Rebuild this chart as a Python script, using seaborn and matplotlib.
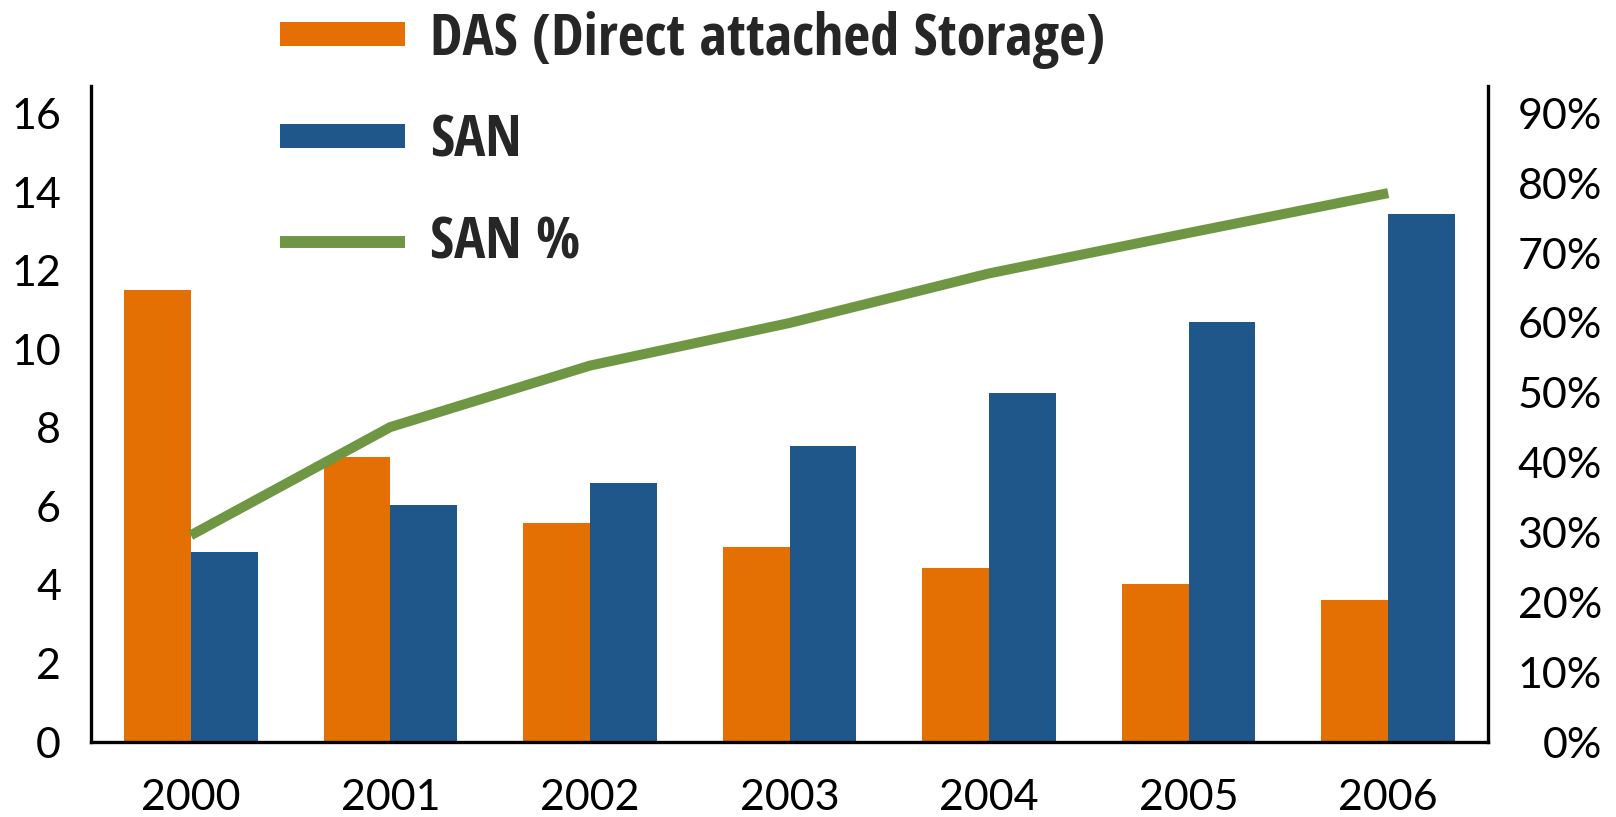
import numpy as np
import pandas as pd
import matplotlib
matplotlib.use("Agg")
import matplotlib.pyplot as plt
from matplotlib import font_manager as fm
from matplotlib.patches import Patch
from matplotlib.lines import Line2D
import seaborn as sns

# ---------------- data ----------------
years = ["2000", "2001", "2002", "2003", "2004", "2005", "2006"]
das_values = [11.5, 7.25, 5.57, 4.96, 4.43, 4.02, 3.61]
san_values = [4.83, 6.03, 6.59, 7.53, 8.88, 10.69, 13.43]
san_pct = [29.6, 45.1, 53.9, 60.0, 67.1, 72.9, 78.6]
series_labels = ["DAS (Direct attached Storage)", "SAN", "SAN %"]
left_ticks = [0, 2, 4, 6, 8, 10, 12, 14, 16]
right_ticks = [0, 10, 20, 30, 40, 50, 60, 70, 80, 90]

ORANGE = "#E47003"
BLUE = "#1F578B"
GREEN = "#6F9743"

sns.set_theme(style="white")
plt.rcParams["font.family"] = ["Lato", "DejaVu Sans"]

# choose a bold condensed family for the legend if available
def pick_condensed():
    entries = fm.fontManager.ttflist
    names = {e.name for e in entries}
    for name in ["Liberation Sans Narrow", "Open Sans Condensed", "Roboto Condensed",
                 "DejaVu Sans Condensed"]:
        if name in names:
            return name, "normal"
    for e in entries:
        if e.stretch in ("condensed", "semi-condensed", "extra-condensed") and e.name in (
                "DejaVu Sans", "Open Sans", "Noto Sans", "Roboto", "Liberation Sans"):
            return e.name, e.stretch
    return "Liberation Sans", "normal"

leg_family, leg_stretch = pick_condensed()

W, H = 1616, 817
fig = plt.figure(figsize=(W / 100, H / 100), dpi=100)
ax = fig.add_axes([91 / W, 75 / H, (1488 - 91) / W, (742 - 86) / H])

df = pd.DataFrame({
    "year": years * 2,
    "series": [series_labels[0]] * len(years) + [series_labels[1]] * len(years),
    "value": das_values + san_values,
})
sns.barplot(data=df, x="year", y="value", hue="series",
            palette=[ORANGE, BLUE], saturation=1, width=0.67,
            linewidth=0, ax=ax, legend=False)

ax2 = ax.twinx()
line_df = pd.DataFrame({"pos": np.arange(len(years)), "pct": san_pct})
sns.lineplot(data=line_df, x="pos", y="pct", color=GREEN, linewidth=7.2,
             ax=ax2, solid_capstyle="butt", solid_joinstyle="round")

ymax = 16.7
ax.set_xlim(-0.5, len(years) - 0.5)
ax.set_ylim(0, ymax)
ax2.set_ylim(0, ymax / 16 * 90)
ax.set_yticks(left_ticks)
ax2.set_yticks(right_ticks)
ax2.set_yticklabels([f"{t}%" for t in right_ticks])
ax.set_xlabel("")
ax.set_ylabel("")
ax2.set_ylabel("")
ax2.set_xlabel("")

for s in ["top", "right"]:
    ax.spines[s].set_visible(False)
for s in ["top", "left", "bottom"]:
    ax2.spines[s].set_visible(False)
for sp in [ax.spines["left"], ax.spines["bottom"], ax2.spines["right"]]:
    sp.set_visible(True)
    sp.set_color("black")
    sp.set_linewidth(2.4)

ax.tick_params(axis="y", length=0, pad=21.6, labelsize=31, colors="black")
ax.tick_params(axis="x", length=0, pad=27, labelsize=31, colors="black")
ax2.tick_params(axis="y", length=0, pad=82, labelsize=31, colors="black")
for lab in ax2.get_yticklabels():
    lab.set_horizontalalignment("right")

handles = [Patch(facecolor=ORANGE, edgecolor="none"),
           Patch(facecolor=BLUE, edgecolor="none"),
           Line2D([], [], color=GREEN, linewidth=8.6, solid_capstyle="butt")]

def make_legend(size):
    prop = fm.FontProperties(family=[leg_family, "DejaVu Sans"], weight="bold",
                             stretch=leg_stretch, size=size)
    return fig.legend(handles=handles, labels=series_labels, loc="upper left",
                      bbox_to_anchor=(280 / W, 1 - 11 / H), frameon=False, prop=prop,
                      handlelength=2.15, handleheight=0.26, handletextpad=0.43,
                      labelspacing=0.75, borderpad=0, borderaxespad=0)

size = 42
leg = make_legend(size)
fig.canvas.draw()
tw = leg.get_texts()[0].get_window_extent().width
if tw > 700:
    leg.remove()
    size = size * 678 / tw
    leg = make_legend(size)

fig.savefig("out.png", dpi=100)
